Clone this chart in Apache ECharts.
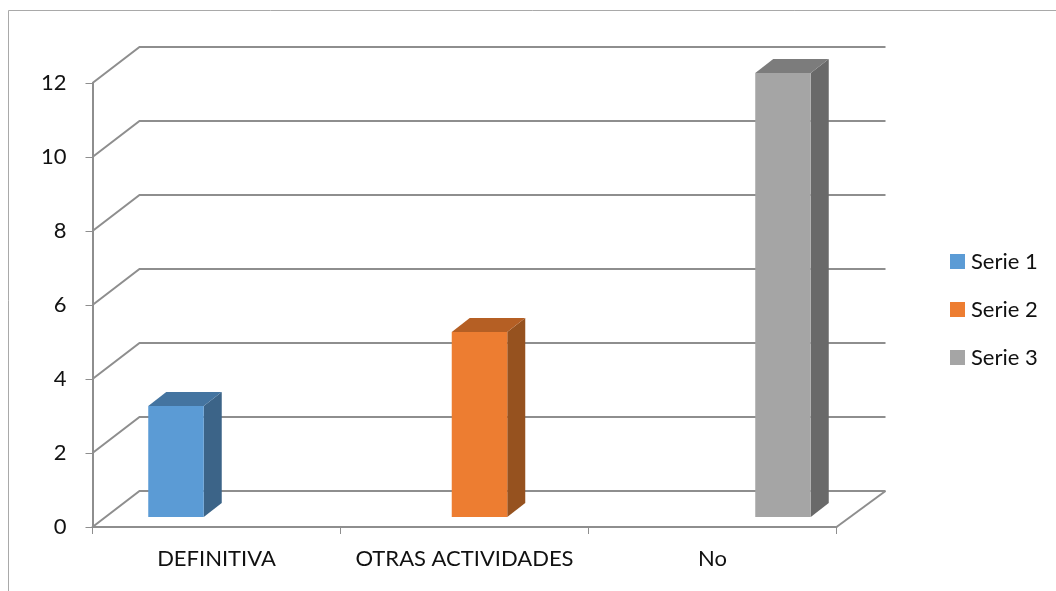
<!DOCTYPE html>
<html>
<head>
<meta charset="utf-8">
<style>html,body{margin:0;padding:0;background:#fff}#c{width:1056px;height:591px}</style>
<script src="https://cdn.jsdelivr.net/npm/echarts@6/dist/echarts.min.js"></script>
</head>
<body>
<div id="c"></div>
<script>
const categories = ['DEFINITIVA', 'OTRAS ACTIVIDADES', 'No'];
const serie1 = [3, null, null];
const serie2 = [null, 5, null];
const serie3 = [null, null, 12];
const seriesNames = ['Serie 1', 'Serie 2', 'Serie 3'];
const yTicks = [0, 2, 4, 6, 8, 10, 12];

const FONT = 'Lato, "Noto Sans", sans-serif';
const GRID = { left: 92.5, top: 83, width: 744, height: 444 };
const LINE = '#8e8e8e';
const DEPTH_L = 47, DEPTH_R = 49, DEPTH_Y = 36;
const BAR_FRAC = 0.2238, BAR_DX = 15, BAR_DY = 10, SIDE_DX = 18, SIDE_DY = 14;
const palette = [
  { front: '#5b9bd5', top: '#4474a0', side: '#3c6488' },
  { front: '#ed7d31', top: '#b55f24', side: '#96521f' },
  { front: '#a5a5a5', top: '#7c7c7c', side: '#696969' }
];

function gridRender(params, api) {
  const r = params.coordSys;
  const v = api.value(1);
  const y = api.coord([0, v])[1];
  const children = [{
    type: 'polyline',
    shape: { points: [[r.x, y], [r.x + DEPTH_L, y - DEPTH_Y], [r.x + r.width + DEPTH_R, y - DEPTH_Y]] },
    style: { stroke: LINE, lineWidth: 2, fill: null }
  }];
  if (v === 0) {
    children.push({
      type: 'line',
      shape: { x1: r.x + r.width, y1: y, x2: r.x + r.width + DEPTH_R, y2: y - DEPTH_Y },
      style: { stroke: LINE, lineWidth: 2 }
    });
  }
  return { type: 'group', children };
}

function barRender(idx) {
  return function (params, api) {
    const c = palette[idx];
    const cat = api.value(0);
    const top = api.coord([cat, api.value(1)]);
    const base = api.coord([cat, 0]);
    const w = api.size([1, 0])[0] * BAR_FRAC;
    const x0 = top[0] + BAR_DX + (idx - 1) * w - w / 2;
    const x1 = x0 + w;
    const yT = top[1] - BAR_DY;
    const yB = base[1] - BAR_DY;
    return {
      type: 'group',
      children: [
        { type: 'polygon', shape: { points: [[x1, yT], [x1 + SIDE_DX, yT - SIDE_DY], [x1 + SIDE_DX, yB - SIDE_DY], [x1, yB]] }, style: { fill: c.side } },
        { type: 'polygon', shape: { points: [[x0, yT], [x0 + SIDE_DX, yT - SIDE_DY], [x1 + SIDE_DX, yT - SIDE_DY], [x1, yT]] }, style: { fill: c.top } },
        { type: 'rect', shape: { x: x0, y: yT, width: w, height: yB - yT }, style: { fill: c.front } }
      ]
    };
  };
}

const barValues = [serie1, serie2, serie3];
const barSeries = barValues.map((vals, i) => ({
  name: seriesNames[i],
  type: 'custom',
  z: 5,
  clip: false,
  itemStyle: { color: palette[i].front },
  encode: { x: 0, y: 1 },
  data: vals.map((v, k) => [k, v]).filter(d => d[1] !== null),
  renderItem: barRender(i)
}));

const chart = echarts.init(document.getElementById('c'), null, { renderer: 'canvas' });
chart.setOption({
  animation: false,
  backgroundColor: '#fff',
  textStyle: { fontFamily: FONT },
  grid: Object.assign({ containLabel: false }, GRID),
  legend: {
    orient: 'vertical',
    left: 945,
    top: 240,
    icon: 'rect',
    itemWidth: 15,
    itemHeight: 15,
    itemGap: 15,
    data: seriesNames,
    selectedMode: false,
    textStyle: { fontFamily: FONT, fontSize: 22, color: '#111', lineHeight: 33, padding: [0, 0, 0, 1] }
  },
  xAxis: {
    type: 'category',
    data: categories,
    axisLine: { lineStyle: { color: LINE, width: 2 } },
    axisTick: { show: true, length: 7, alignWithLabel: false, lineStyle: { color: LINE, width: 1 } },
    axisLabel: { color: '#111', fontFamily: FONT, fontSize: 22, margin: 21, interval: 0 },
    splitLine: { show: false }
  },
  yAxis: {
    type: 'value',
    min: 0,
    max: 12,
    interval: 2,
    axisLine: { show: true, lineStyle: { color: LINE, width: 2 } },
    axisTick: { show: true, length: 7, lineStyle: { color: LINE, width: 1 } },
    axisLabel: { color: '#111', fontFamily: FONT, fontSize: 22, margin: 26 },
    splitLine: { show: false }
  },
  graphic: [
    { type: 'line', silent: true, shape: { x1: 8.5, y1: 10.5, x2: 1056, y2: 10.5 }, style: { stroke: '#a9a9a9', lineWidth: 1 } },
    { type: 'line', silent: true, shape: { x1: 8.5, y1: 10.5, x2: 8.5, y2: 591 }, style: { stroke: '#a9a9a9', lineWidth: 1 } }
  ],
  series: [{
    type: 'custom',
    z: 1,
    clip: false,
    silent: true,
    encode: { x: 0, y: 1 },
    data: yTicks.map(v => [0, v]),
    renderItem: gridRender
  }].concat(barSeries)
});
</script>
</body>
</html>
